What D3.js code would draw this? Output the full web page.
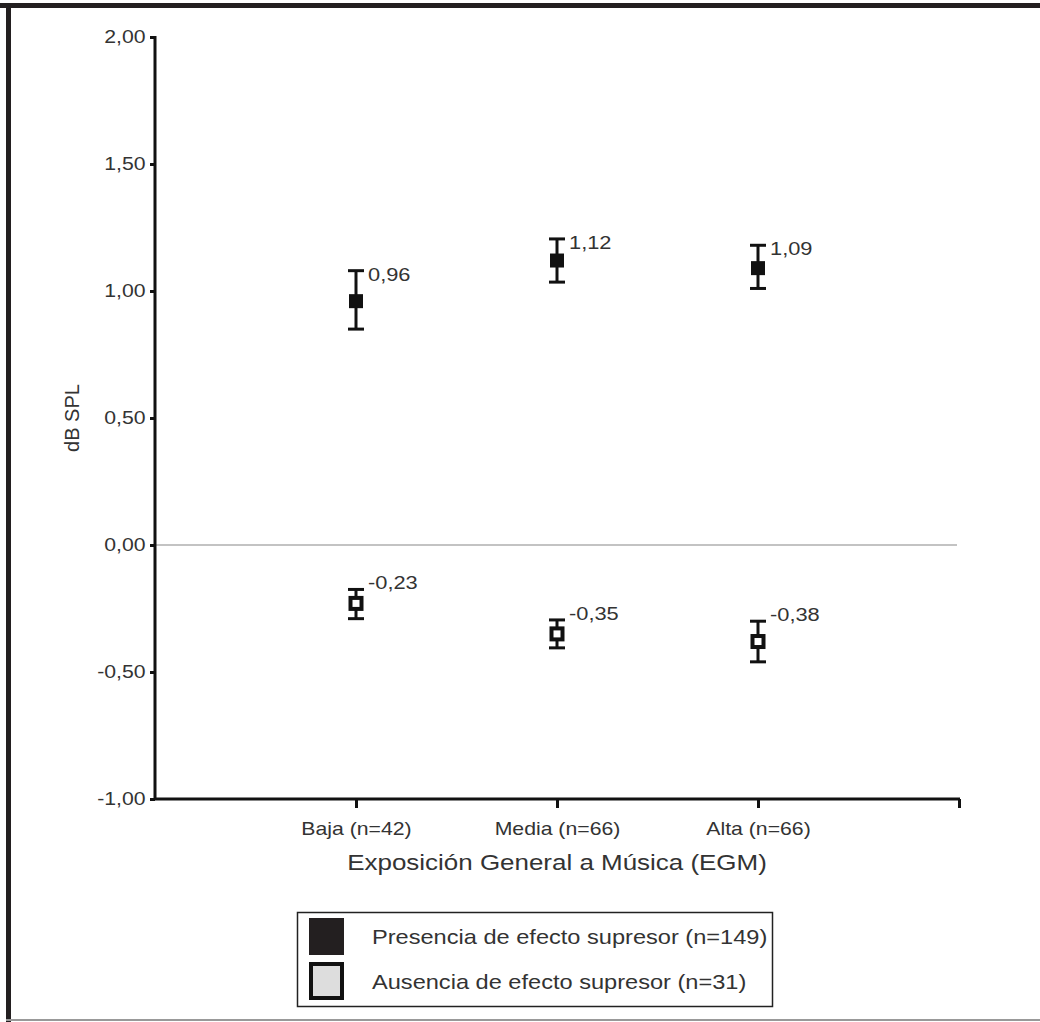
<!DOCTYPE html>
<html>
<head>
<meta charset="utf-8">
<script src="https://cdn.jsdelivr.net/npm/d3@7"></script>
<style>
body { margin: 0; background: #fff; }
svg text { font-family: "Liberation Sans", Arial, sans-serif; }
</style>
</head>
<body>
<svg class="chart" width="1040" height="1022"></svg>
<script>
var categories = ['Baja (n=42)', 'Media (n=66)', 'Alta (n=66)']
var yTicks = [-1, -0.5, 0, 0.5, 1, 1.5, 2]
var seriesNames = ['Presencia de efecto supresor (n=149)', 'Ausencia de efecto supresor (n=31)']
var presMean = [0.96, 1.12, 1.09]
var presLow = [0.85, 1.035, 1.01]
var presHigh = [1.08, 1.205, 1.18]
var ausMean = [-0.23, -0.35, -0.38]
var ausLow = [-0.29, -0.405, -0.46]
var ausHigh = [-0.175, -0.295, -0.30]

var svg = d3.select('.chart')
var fmt = function (v) { return d3.format('.2f')(v).replace('.', ',').replace('\u2212', '-') }
var sx = 1.18 // the scan is a bit wider than tall

// draws text stretched sideways around its anchor
function label(g, x, y, size, str, anchor) {
    return g.append('text')
        .attr('transform', 'translate(' + x + ',' + y + ') scale(' + sx + ',1)')
        .attr('text-anchor', anchor || 'start')
        .attr('font-size', size).attr('fill', '#333').text(str)
}

// frame
svg.append('rect').attr('x', 0).attr('y', 3).attr('width', 1040).attr('height', 5).attr('fill', '#231f20')
svg.append('rect').attr('x', 6).attr('y', 3).attr('width', 5).attr('height', 1019).attr('fill', '#231f20')
svg.append('rect').attr('x', 6).attr('y', 1019).attr('width', 1034).attr('height', 2).attr('fill', '#999')

var pLeft = 155, pRight = 959, pTop = 37, pBottom = 799
var x = d3.scalePoint().domain(['', ...categories, ' ']).range([pLeft, pRight])
var y = d3.scaleLinear().domain([-1, 2]).range([pBottom, pTop])

// zero line
svg.append('line').attr('x1', pLeft).attr('x2', pRight - 2).attr('y1', y(0)).attr('y2', y(0))
    .attr('stroke', '#888').attr('stroke-width', 1.2)

var yAxis = svg.append('g').attr('transform', 'translate(' + pLeft + ',0)')
    .call(d3.axisLeft(y).tickValues(yTicks).tickFormat(fmt).tickSize(5).tickPadding(3))
yAxis.select('.domain').attr('stroke', '#111').attr('stroke-width', 3).attr('d', 'M0,' + (pTop - 1) + 'V' + (pBottom + 1))
yAxis.selectAll('.tick line').attr('stroke', '#111').attr('stroke-width', 3)
yAxis.selectAll('.tick text').attr('font-size', 18).attr('fill', '#333').attr('transform', 'scale(' + sx + ',1)')

var xAxis = svg.append('g').attr('transform', 'translate(0,' + pBottom + ')')
    .call(d3.axisBottom(x).tickSize(9).tickPadding(14))
xAxis.select('.domain').attr('stroke', '#111').attr('stroke-width', 3).attr('d', 'M' + (pLeft - 1) + ',0H' + (pRight + 1))
xAxis.selectAll('.tick line').attr('stroke', '#111').attr('stroke-width', 3)
xAxis.selectAll('.tick').filter(function (d) { return d === '' }).remove()
xAxis.selectAll('.tick text').attr('font-size', 18).attr('fill', '#333').attr('transform', 'scale(' + sx + ',1)')

label(svg, x(categories[1]), 870, 22, 'Exposición General a Música (EGM)', 'middle')
svg.append('text').attr('transform', 'translate(79,' + y(0.5) + ') rotate(-90)').attr('text-anchor', 'middle')
    .attr('font-size', 20).attr('fill', '#333').text('dB SPL')

function drawSeries(mean, low, high, filled, dy) {
    var g = svg.append('g')
    categories.forEach(function (c, i) {
        var cx = x(c)
        g.append('line').attr('x1', cx).attr('x2', cx).attr('y1', y(low[i])).attr('y2', y(high[i]))
            .attr('stroke', '#111').attr('stroke-width', 3)
        ;[low[i], high[i]].forEach(function (v) {
            g.append('line').attr('x1', cx - 8).attr('x2', cx + 8).attr('y1', y(v)).attr('y2', y(v))
                .attr('stroke', '#111').attr('stroke-width', 3)
        })
        if (filled) {
            g.append('rect').attr('x', cx - 7).attr('y', y(mean[i]) - 7).attr('width', 14).attr('height', 14)
                .attr('fill', '#111')
        } else {
            g.append('rect').attr('x', cx - 5.5).attr('y', y(mean[i]) - 5.5).attr('width', 11).attr('height', 11)
                .attr('fill', '#fff').attr('stroke', '#111').attr('stroke-width', 4)
        }
        label(g, cx + 12, y(high[i]) + dy, 18.5, fmt(mean[i]))
    })
}
drawSeries(presMean, presLow, presHigh, true, 10)
drawSeries(ausMean, ausLow, ausHigh, false, 0)

// legend
var lg = svg.append('g')
lg.append('rect').attr('x', 297.5).attr('y', 912.5).attr('width', 475).attr('height', 94)
    .attr('fill', '#fff').attr('stroke', '#222').attr('stroke-width', 1.5)
seriesNames.forEach(function (s, i) {
    var yy = 918 + i * 45
    if (i === 0) {
        lg.append('rect').attr('x', 309).attr('y', yy).attr('width', 35).attr('height', 37).attr('fill', '#231f20')
    } else {
        lg.append('rect').attr('x', 311).attr('y', yy + 1).attr('width', 31).attr('height', 34)
            .attr('fill', '#ddd').attr('stroke', '#111').attr('stroke-width', 4)
    }
    label(lg, 372, yy + 26, 20, s)
})
</script>
</body>
</html>
